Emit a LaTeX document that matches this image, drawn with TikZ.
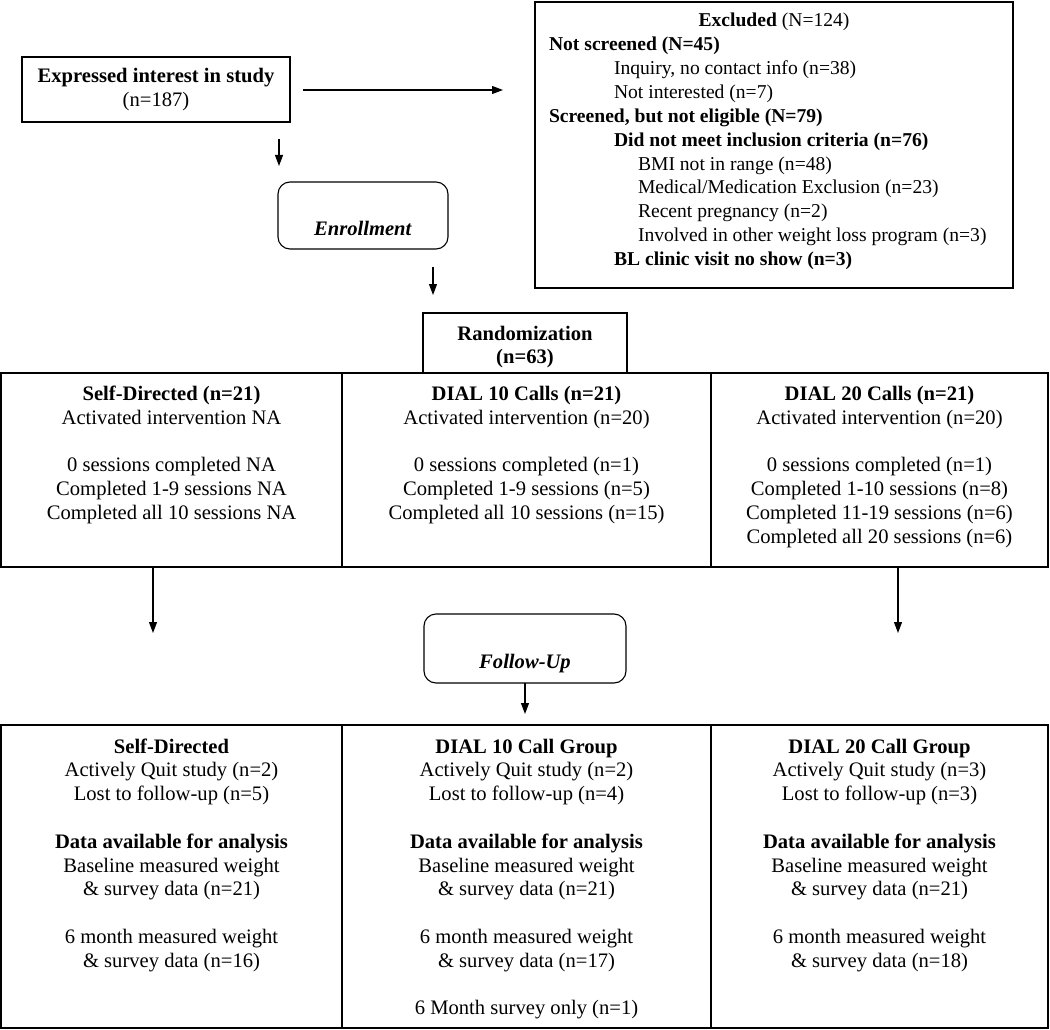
\documentclass[tikz,border=0pt]{standalone}
\usepackage{fontspec}
\setmainfont{Liberation Serif}
\usetikzlibrary{arrows.meta}
\newcommand\fs{\fontsize{20.6}{23.8}\selectfont}
\newcommand\fsx{\fontsize{19.6}{23.85}\selectfont}
\newcommand\mystrut{\rule{0pt}{16pt}}
\begin{document}
\begin{tikzpicture}[x=1pt,y=-1pt,
  box/.style={draw, line width=1.1pt, inner sep=0pt, outer sep=0pt},
  rbox/.style={box, rounded corners=12pt},
  txt/.style={inner sep=0pt, outer sep=0pt, anchor=north, align=center, font=\fs},
  ltxt/.style={inner sep=0pt, outer sep=0pt, anchor=north west, align=left, font=\fsx},
  arr/.style={line width=1.1pt, -{Triangle[length=11pt,width=8pt]}}]
\useasboundingbox (0,0) rectangle (1050,1030);

% boxes
\node[box, minimum width=268pt, minimum height=65pt] (ei) at (156,89.5) {};
\node[rbox, minimum width=170pt, minimum height=67pt] (enr) at (363,215.5) {};
\node[box, minimum width=478pt, minimum height=286pt] (exc) at (774,145) {};
\node[box, minimum width=204pt, minimum height=60pt] (rnd) at (525,343) {};
\node[box, minimum width=341pt, minimum height=194pt] (sd) at (171.5,470) {};
\node[box, minimum width=369pt, minimum height=194pt] (d10) at (526.5,470) {};
\node[box, minimum width=337pt, minimum height=194pt] (d20) at (879.5,470) {};
\node[rbox, minimum width=202pt, minimum height=69pt] (fu) at (525,648.5) {};
\node[box, minimum width=341pt, minimum height=303pt] (sdf) at (171.5,876.5) {};
\node[box, minimum width=369pt, minimum height=303pt] (d10f) at (526.5,876.5) {};
\node[box, minimum width=337pt, minimum height=303pt] (d20f) at (879.5,876.5) {};

% texts
\node[txt] (eit) at (156,67) {\mystrut\textbf{Expressed interest in study}\\(n=187)};
\node[txt] (enrt) at (363,219) {\mystrut\textbf{\textit{Enrollment}}};
\node[txt, font=\fsx] (exct) at (774,11) {\mystrut\textbf{Excluded} (N=124)};
\node[ltxt] (excb) at (549,34.85) {\mystrut\textbf{Not screened (N=45)}\\
\hspace*{65pt}Inquiry, no contact info (n=38)\\
\hspace*{65pt}Not interested (n=7)\\
\textbf{Screened, but not eligible (N=79)}\\
\hspace*{65pt}\textbf{Did not meet inclusion criteria (n=76)}\\
\hspace*{89pt}BMI not in range (n=48)\\
\hspace*{89pt}Medical/Medication Exclusion (n=23)\\
\hspace*{89pt}Recent pregnancy (n=2)\\
\hspace*{89pt}Involved in other weight loss program (n=3)\\
\hspace*{65pt}\textbf{BL clinic visit no show (n=3)}};
\node[txt] (rndt) at (525,324) {\mystrut\textbf{Randomization}\\\textbf{(n=63)}};

\node[txt] (sdt) at (171.5,384.5) {\mystrut\textbf{Self-Directed (n=21)}\\
Activated intervention NA\\[23.8pt]
0 sessions completed NA\\
Completed 1-9 sessions NA\\
Completed all 10 sessions NA};
\node[txt] (d10t) at (526.5,384.5) {\mystrut\textbf{DIAL 10 Calls (n=21)}\\
Activated intervention (n=20)\\[23.8pt]
0 sessions completed (n=1)\\
Completed 1-9 sessions (n=5)\\
Completed all 10 sessions (n=15)};
\node[txt] (d20t) at (879.5,384.5) {\mystrut\textbf{DIAL 20 Calls (n=21)}\\
Activated intervention (n=20)\\[23.8pt]
0 sessions completed (n=1)\\
Completed 1-10 sessions (n=8)\\
Completed 11-19 sessions (n=6)\\
Completed all 20 sessions (n=6)};

\node[txt] (fut) at (525,652) {\mystrut\textbf{\textit{Follow-Up}}};

\node[txt] (sdft) at (171.5,737) {\mystrut\textbf{Self-Directed}\\
Actively Quit study (n=2)\\
Lost to follow-up (n=5)\\[23.8pt]
\textbf{Data available for analysis}\\
Baseline measured weight\\
\& survey data (n=21)\\[23.8pt]
6 month measured weight\\
\& survey data (n=16)};
\node[txt] (d10ft) at (526.5,737) {\mystrut\textbf{DIAL 10 Call Group}\\
Actively Quit study (n=2)\\
Lost to follow-up (n=4)\\[23.8pt]
\textbf{Data available for analysis}\\
Baseline measured weight\\
\& survey data (n=21)\\[23.8pt]
6 month measured weight\\
\& survey data (n=17)\\[23.8pt]
6 Month survey only (n=1)};
\node[txt] (d20ft) at (879.5,737) {\mystrut\textbf{DIAL 20 Call Group}\\
Actively Quit study (n=3)\\
Lost to follow-up (n=3)\\[23.8pt]
\textbf{Data available for analysis}\\
Baseline measured weight\\
\& survey data (n=21)\\[23.8pt]
6 month measured weight\\
\& survey data (n=18)};

% connectors
\coordinate (h1) at (303,90);
\coordinate (h2) at (503,90);
\coordinate (v1a) at (279,139);
\coordinate (v1b) at (279,166);
\coordinate (v2a) at (433,267);
\coordinate (v2b) at (433,295);
\coordinate (l1) at (153,633);
\coordinate (r1) at (898,633);
\coordinate (fe) at (525,714);
\draw[arr] (h1) -- (h2);
\draw[arr] (v1a) -- (v1b);
\draw[arr] (v2a) -- (v2b);
\draw[arr] (sd.south -| l1) -- (l1);
\draw[arr] (d20.south -| r1) -- (r1);
\draw[arr] (fu.south) -- (fe);
\end{tikzpicture}
\end{document}
